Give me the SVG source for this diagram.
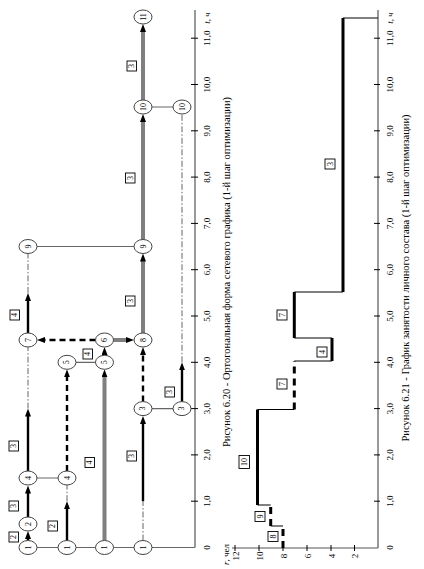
<svg xmlns="http://www.w3.org/2000/svg" width="424" height="569" viewBox="0 0 424 569">
<defs>
<marker id="ah" viewBox="0 0 8 6" refX="2" refY="3" markerWidth="8" markerHeight="6" markerUnits="userSpaceOnUse" orient="auto"><path d="M0,0 L8,3 L0,6 z" fill="#000"/></marker>
</defs>
<style>
.t{font-family:"Liberation Serif","Times New Roman",serif;fill:#000}
.ax{stroke:#555;stroke-width:1.2;fill:none}
.tk{stroke:#000;stroke-width:1;fill:none}
.thin{stroke:#666;stroke-width:1.2;fill:none}
.dd{stroke:#555;stroke-width:0.9;stroke-dasharray:6 2 1.5 2;fill:none}
.blk{stroke:#000;stroke-width:2.4;fill:none}
.dsh{stroke:#000;stroke-width:2.4;stroke-dasharray:6 4;fill:none}
.gry{stroke:#7f7f7f;stroke-width:4;fill:none}
.node ellipse{fill:#fff;stroke:#444;stroke-width:1}
.nt{font-size:8px;text-anchor:middle;dominant-baseline:central}
.lb rect{fill:#fff;stroke:#000;stroke-width:0.9}
.tl{font-size:9px;text-anchor:middle}
.rs{stroke:#000;stroke-width:3;fill:none}
.rsd{stroke:#000;stroke-width:3;stroke-dasharray:7 5;fill:none}
.rst{stroke:#000;stroke-width:1;fill:none}
</style>

<!-- network time axis -->
<g id="axis1">
<line class="ax" x1="195" y1="547.5" x2="195" y2="10"/>
<g class="tk">
<line x1="191" y1="501.2" x2="198" y2="501.2"/><line x1="191" y1="454.9" x2="198" y2="454.9"/>
<line x1="191" y1="408.6" x2="198" y2="408.6"/><line x1="191" y1="362.3" x2="198" y2="362.3"/>
<line x1="191" y1="316" x2="198" y2="316"/><line x1="191" y1="269.7" x2="198" y2="269.7"/>
<line x1="191" y1="223.4" x2="198" y2="223.4"/><line x1="191" y1="177.1" x2="198" y2="177.1"/>
<line x1="191" y1="130.8" x2="198" y2="130.8"/><line x1="191" y1="84.5" x2="198" y2="84.5"/>
<line x1="191" y1="38.2" x2="198" y2="38.2"/>
</g>
<g class="t tl">
<text x="210" y="547.5" transform="rotate(-90 210 547.5)">0</text>
<text x="210" y="501.2" transform="rotate(-90 210 501.2)">1,0</text>
<text x="210" y="454.9" transform="rotate(-90 210 454.9)">2,0</text>
<text x="210" y="408.6" transform="rotate(-90 210 408.6)">3,0</text>
<text x="210" y="362.3" transform="rotate(-90 210 362.3)">4,0</text>
<text x="210" y="316" transform="rotate(-90 210 316)">5,0</text>
<text x="210" y="269.7" transform="rotate(-90 210 269.7)">6,0</text>
<text x="210" y="223.4" transform="rotate(-90 210 223.4)">7,0</text>
<text x="210" y="177.1" transform="rotate(-90 210 177.1)">8,0</text>
<text x="210" y="130.8" transform="rotate(-90 210 130.8)">9,0</text>
<text x="210" y="84.5" transform="rotate(-90 210 84.5)">10,0</text>
<text x="210" y="38.2" transform="rotate(-90 210 38.2)">11,0</text>
<text x="210" y="18" transform="rotate(-90 210 18)" font-style="italic">t, ч</text>
</g>
</g>

<!-- connectors -->
<g id="connectors">
<!-- thin horizontal links -->
<line class="thin" x1="28" y1="547.5" x2="195" y2="547.5"/>
<line class="thin" x1="28" y1="478" x2="67" y2="478"/>
<line class="thin" x1="67" y1="362.3" x2="104.5" y2="362.3"/>
<line class="thin" x1="28" y1="246.5" x2="143" y2="246.5"/>
<line class="thin" x1="143" y1="408.6" x2="182" y2="408.6"/>
<line class="thin" x1="143" y1="107" x2="182" y2="107"/>
<!-- column 1 -->
<line class="blk" x1="28" y1="540.5" x2="28" y2="537" marker-end="url(#ah)"/>
<line class="blk" x1="28" y1="517" x2="28" y2="491.5" marker-end="url(#ah)"/>
<line class="blk" x1="28" y1="471" x2="28" y2="414.6" marker-end="url(#ah)"/>
<line class="dd" x1="28" y1="408.6" x2="28" y2="347"/>
<line class="blk" x1="28" y1="333" x2="28" y2="298.9" marker-end="url(#ah)"/>
<line class="dd" x1="28" y1="292.9" x2="28" y2="253.5"/>
<!-- column 2 -->
<line class="blk" x1="67" y1="540.5" x2="67" y2="507.2" marker-end="url(#ah)"/>
<line class="dd" x1="67" y1="501.2" x2="67" y2="485"/>
<line class="dsh" x1="67" y1="471" x2="67" y2="375.3" marker-end="url(#ah)"/>
<!-- column 3 -->
<line class="gry" x1="104.5" y1="540.5" x2="104.5" y2="375.3" marker-end="url(#ah)"/>
<line class="blk" x1="104.5" y1="355.3" x2="104.5" y2="353" marker-end="url(#ah)"/>
<line class="dsh" x1="95.5" y1="340" x2="43" y2="340" marker-end="url(#ah)"/>
<line class="gry" x1="113.5" y1="340" x2="128" y2="340" marker-end="url(#ah)"/>
<!-- column 4 -->
<line class="dd" x1="143" y1="540.5" x2="143" y2="501.2"/>
<line class="blk" x1="143" y1="501.2" x2="143" y2="422" marker-end="url(#ah)"/>
<line class="dsh" x1="143" y1="401.6" x2="143" y2="353" marker-end="url(#ah)"/>
<line class="gry" x1="143" y1="333" x2="143" y2="259.5" marker-end="url(#ah)"/>
<line class="gry" x1="143" y1="239.5" x2="143" y2="120" marker-end="url(#ah)"/>
<line class="gry" x1="143" y1="100" x2="143" y2="30" marker-end="url(#ah)"/>
<!-- column 5 -->
<line class="blk" x1="182" y1="401.6" x2="182" y2="368.3" marker-end="url(#ah)"/>
<line class="dd" x1="182" y1="362.3" x2="182" y2="114"/>
</g>

<!-- activity labels -->
<g id="labels" class="lb">
<g><rect x="9" y="532" width="9.5" height="10"/><text class="t nt" x="13.75" y="537" transform="rotate(-90 13.75 537)">2</text></g>
<g><rect x="9" y="501" width="9.5" height="10"/><text class="t nt" x="13.75" y="506" transform="rotate(-90 13.75 506)">3</text></g>
<g><rect x="9" y="441" width="9.5" height="10"/><text class="t nt" x="13.75" y="446" transform="rotate(-90 13.75 446)">3</text></g>
<g><rect x="10" y="310" width="9.5" height="10"/><text class="t nt" x="14.75" y="315" transform="rotate(-90 14.75 315)">4</text></g>
<g><rect x="48" y="521" width="9.5" height="10"/><text class="t nt" x="52.75" y="526" transform="rotate(-90 52.75 526)">2</text></g>
<g><rect x="85" y="457.5" width="9.5" height="10"/><text class="t nt" x="89.75" y="462.5" transform="rotate(-90 89.75 462.5)">4</text></g>
<g><rect x="83" y="349" width="9.5" height="10"/><text class="t nt" x="87.75" y="354" transform="rotate(-90 87.75 354)">4</text></g>
<g><rect x="127" y="451" width="9.5" height="10"/><text class="t nt" x="131.75" y="456" transform="rotate(-90 131.75 456)">3</text></g>
<g><rect x="165" y="387" width="9.5" height="10"/><text class="t nt" x="169.75" y="392" transform="rotate(-90 169.75 392)">3</text></g>
<g><rect x="125.5" y="296" width="9.5" height="10"/><text class="t nt" x="130.25" y="301" transform="rotate(-90 130.25 301)">3</text></g>
<g><rect x="125.5" y="173" width="9.5" height="10"/><text class="t nt" x="130.25" y="178" transform="rotate(-90 130.25 178)">3</text></g>
<g><rect x="127" y="61" width="9.5" height="10"/><text class="t nt" x="131.75" y="66" transform="rotate(-90 131.75 66)">3</text></g>
</g>

<!-- nodes -->
<g id="n1a" class="node"><ellipse cx="28" cy="547.5" rx="9" ry="7"/><text class="t nt" x="28" y="547.5" transform="rotate(-90 28 547.5)">1</text></g>
<g id="n2" class="node"><ellipse cx="28" cy="524" rx="9" ry="7"/><text class="t nt" x="28" y="524" transform="rotate(-90 28 524)">2</text></g>
<g id="n4a" class="node"><ellipse cx="28" cy="478" rx="9" ry="7"/><text class="t nt" x="28" y="478" transform="rotate(-90 28 478)">4</text></g>
<g id="n7" class="node"><ellipse cx="28" cy="340" rx="9" ry="7"/><text class="t nt" x="28" y="340" transform="rotate(-90 28 340)">7</text></g>
<g id="n9a" class="node"><ellipse cx="28" cy="246.5" rx="9" ry="7"/><text class="t nt" x="28" y="246.5" transform="rotate(-90 28 246.5)">9</text></g>
<g id="n1b" class="node"><ellipse cx="67" cy="547.5" rx="9" ry="7"/><text class="t nt" x="67" y="547.5" transform="rotate(-90 67 547.5)">1</text></g>
<g id="n4b" class="node"><ellipse cx="67" cy="478" rx="9" ry="7"/><text class="t nt" x="67" y="478" transform="rotate(-90 67 478)">4</text></g>
<g id="n5a" class="node"><ellipse cx="67" cy="362.3" rx="9" ry="7"/><text class="t nt" x="67" y="362.3" transform="rotate(-90 67 362.3)">5</text></g>
<g id="n1c" class="node"><ellipse cx="104.5" cy="547.5" rx="9" ry="7"/><text class="t nt" x="104.5" y="547.5" transform="rotate(-90 104.5 547.5)">1</text></g>
<g id="n5b" class="node"><ellipse cx="104.5" cy="362.3" rx="9" ry="7"/><text class="t nt" x="104.5" y="362.3" transform="rotate(-90 104.5 362.3)">5</text></g>
<g id="n6" class="node"><ellipse cx="104.5" cy="340" rx="9" ry="7"/><text class="t nt" x="104.5" y="340" transform="rotate(-90 104.5 340)">6</text></g>
<g id="n1d" class="node"><ellipse cx="143" cy="547.5" rx="9" ry="7"/><text class="t nt" x="143" y="547.5" transform="rotate(-90 143 547.5)">1</text></g>
<g id="n3a" class="node"><ellipse cx="143" cy="408.6" rx="9" ry="7"/><text class="t nt" x="143" y="408.6" transform="rotate(-90 143 408.6)">3</text></g>
<g id="n8" class="node"><ellipse cx="143" cy="340" rx="9" ry="7"/><text class="t nt" x="143" y="340" transform="rotate(-90 143 340)">8</text></g>
<g id="n9b" class="node"><ellipse cx="143" cy="246.5" rx="9" ry="7"/><text class="t nt" x="143" y="246.5" transform="rotate(-90 143 246.5)">9</text></g>
<g id="n10a" class="node"><ellipse cx="143" cy="107" rx="9" ry="7"/><text class="t nt" x="143" y="107" transform="rotate(-90 143 107)">10</text></g>
<g id="n11" class="node"><ellipse cx="143" cy="17" rx="9" ry="7"/><text class="t nt" x="143" y="17" transform="rotate(-90 143 17)">11</text></g>
<g id="n3b" class="node"><ellipse cx="182" cy="408.6" rx="9" ry="7"/><text class="t nt" x="182" y="408.6" transform="rotate(-90 182 408.6)">3</text></g>
<g id="n10b" class="node"><ellipse cx="182" cy="107" rx="9" ry="7"/><text class="t nt" x="182" y="107" transform="rotate(-90 182 107)">10</text></g>

<text class="t" x="230" y="272" font-size="10.5" text-anchor="middle" transform="rotate(-90 230 272)">Рисунок 6.20 - Ортогональная форма сетевого графика (1-й шаг оптимизации)</text>

<!-- resource chart -->
<g id="axis2">
<line class="ax" x1="378" y1="548" x2="378" y2="10"/>
<line class="ax" x1="232" y1="548" x2="378" y2="548"/>
<g class="tk">
<line x1="374" y1="501.2" x2="380" y2="501.2"/><line x1="374" y1="454.9" x2="380" y2="454.9"/>
<line x1="374" y1="408.6" x2="380" y2="408.6"/><line x1="374" y1="362.3" x2="380" y2="362.3"/>
<line x1="374" y1="316" x2="380" y2="316"/><line x1="374" y1="269.7" x2="380" y2="269.7"/>
<line x1="374" y1="223.4" x2="380" y2="223.4"/><line x1="374" y1="177.1" x2="380" y2="177.1"/>
<line x1="374" y1="130.8" x2="380" y2="130.8"/><line x1="374" y1="84.5" x2="380" y2="84.5"/>
<line x1="374" y1="38.2" x2="380" y2="38.2"/>
<line x1="235" y1="545" x2="235" y2="551"/><line x1="259" y1="545" x2="259" y2="551"/>
<line x1="283" y1="545" x2="283" y2="551"/><line x1="307" y1="545" x2="307" y2="551"/>
<line x1="331" y1="545" x2="331" y2="551"/><line x1="354.5" y1="545" x2="354.5" y2="551"/>
</g>
<g class="t tl">
<text x="393" y="547.5" transform="rotate(-90 393 547.5)">0</text>
<text x="393" y="501.2" transform="rotate(-90 393 501.2)">1,0</text>
<text x="393" y="454.9" transform="rotate(-90 393 454.9)">2,0</text>
<text x="393" y="408.6" transform="rotate(-90 393 408.6)">3,0</text>
<text x="393" y="362.3" transform="rotate(-90 393 362.3)">4,0</text>
<text x="393" y="316" transform="rotate(-90 393 316)">5,0</text>
<text x="393" y="269.7" transform="rotate(-90 393 269.7)">6,0</text>
<text x="393" y="223.4" transform="rotate(-90 393 223.4)">7,0</text>
<text x="393" y="177.1" transform="rotate(-90 393 177.1)">8,0</text>
<text x="393" y="130.8" transform="rotate(-90 393 130.8)">9,0</text>
<text x="393" y="84.5" transform="rotate(-90 393 84.5)">10,0</text>
<text x="393" y="38.2" transform="rotate(-90 393 38.2)">11,0</text>
<text x="393" y="18" transform="rotate(-90 393 18)" font-style="italic">t, ч</text>
<text x="238.5" y="556" transform="rotate(-90 238.5 556)">12</text>
<text x="262.5" y="556" transform="rotate(-90 262.5 556)">10</text>
<text x="286.5" y="556" transform="rotate(-90 286.5 556)">8</text>
<text x="310.5" y="556" transform="rotate(-90 310.5 556)">6</text>
<text x="334.5" y="556" transform="rotate(-90 334.5 556)">4</text>
<text x="358" y="556" transform="rotate(-90 358 556)">2</text>
<text x="229" y="565" text-anchor="start" transform="rotate(-90 229 565)"><tspan font-style="italic">r</tspan>, чел</text>
</g>
</g>

<g id="profile">
<path class="rst" d="M283,526 H270.7 M270.7,505 H257.5 M257.5,409.5 H294.3 M294.3,361 H332 M332,338 H294.3 M294.3,292 H343 M343,18 H378"/>
<line class="rsd" x1="283" y1="548" x2="283" y2="526"/>
<line class="rsd" x1="270.7" y1="526" x2="270.7" y2="505"/>
<line class="rs" x1="257.5" y1="505" x2="257.5" y2="409.5"/>
<line class="rsd" x1="294.3" y1="409.5" x2="294.3" y2="361"/>
<line class="rs" x1="332" y1="361" x2="332" y2="338"/>
<line class="rs" x1="294.3" y1="338" x2="294.3" y2="292"/>
<line class="rs" x1="343" y1="292" x2="343" y2="18"/>
</g>
<g id="plabels" class="lb">
<g><rect x="268" y="531.5" width="10" height="10"/><text class="t nt" x="273" y="536.5" transform="rotate(-90 273 536.5)">8</text></g>
<g><rect x="255" y="511.5" width="10" height="10"/><text class="t nt" x="260" y="516.5" transform="rotate(-90 260 516.5)">9</text></g>
<g><rect x="239" y="455.5" width="10.5" height="13"/><text class="t nt" x="244.25" y="462" transform="rotate(-90 244.25 462)">10</text></g>
<g><rect x="277" y="379" width="10" height="10"/><text class="t nt" x="282" y="384" transform="rotate(-90 282 384)">7</text></g>
<g><rect x="317" y="347" width="10" height="10"/><text class="t nt" x="322" y="352" transform="rotate(-90 322 352)">4</text></g>
<g><rect x="277" y="310" width="10" height="10"/><text class="t nt" x="282" y="315" transform="rotate(-90 282 315)">7</text></g>
<g><rect x="325" y="159" width="10" height="10"/><text class="t nt" x="330" y="164" transform="rotate(-90 330 164)">3</text></g>
</g>

<text class="t" x="409" y="278" font-size="10.5" text-anchor="middle" transform="rotate(-90 409 278)">Рисунок 6.21 - График занятости личного состава (1-й шаг оптимизации)</text>
</svg>
